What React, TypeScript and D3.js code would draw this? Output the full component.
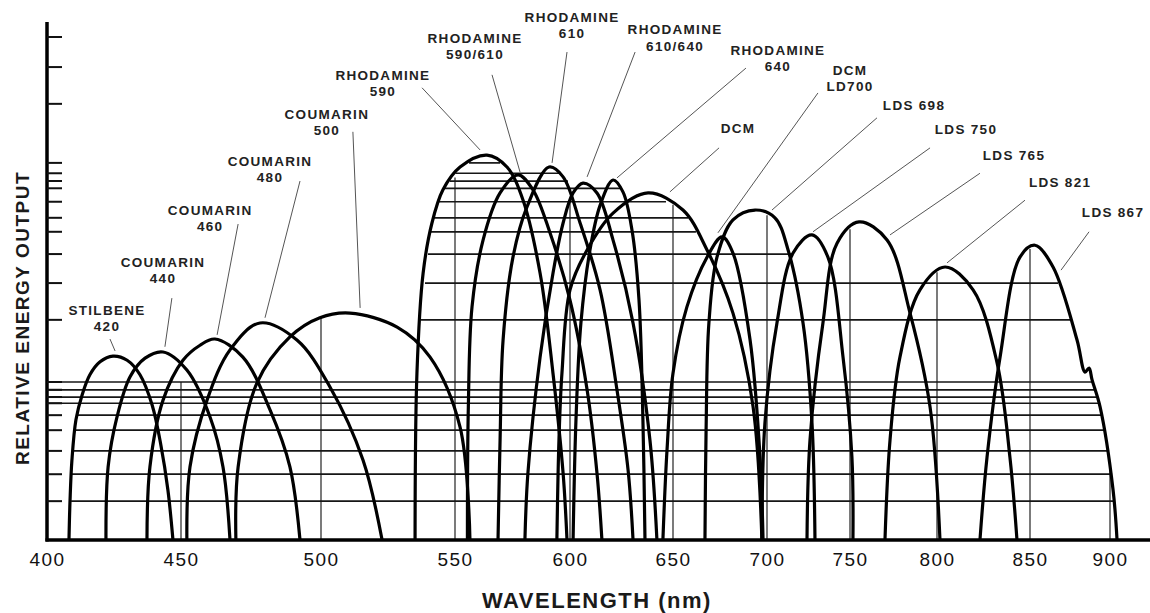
import React, { useRef, useEffect } from 'react';
import * as d3 from 'd3';

const WIDTH = 1150;
const HEIGHT = 613;

// wavelength ticks (nm) and where the hand drawn axis places them (non-uniform)
const xTicks = [400, 450, 500, 550, 600, 650, 700, 750, 800, 850, 900];
const xTickPx = [47, 181, 321, 455, 570, 673, 767, 850, 937, 1030, 1110];

// relative energy marks on the left axis (0-100)
const yTicks = [
  97.1, 91.3, 84.2, 72.8, 70.8, 69.3, 67.9, 65.3, 62.2, 59.5, 55.2, 49.6, 42.5, 30.5, 29.0, 27.6,
  26.4, 24.1, 21.2, 17.2, 12.7, 7.5,
];

// horizontal rulings: level and the wavelength span they cover
const gridLevels = [
  72.8, 70.8, 69.3, 67.9, 65.3, 62.2, 59.5, 55.2, 49.6, 42.5, 30.5, 29.0, 27.6, 26.4, 24.1, 21.2,
  17.2, 12.7, 7.5,
];
const gridFrom = [
  556.1, 550.2, 548.1, 545.9, 543.7, 542.2, 541.0, 539.9, 538.8, 537.3, 400, 400, 400, 400, 410.8,
  410.4, 409.7, 409.3, 409.0,
];
const gridTo = [
  569.6, 595.7, 599.1, 624.3, 646.6, 658.0, 662.2, 715.7, 867.5, 875.0, 889.4, 890.6, 892.5, 893.4,
  895.0, 896.9, 899.4, 901.3, 902.8,
];

// vertical rulings at the labelled wavelengths and how high they reach
const vLines = [450, 500, 550, 600, 650, 700, 750, 800, 850, 900];
const vTops = [30.5, 42.9, 70.0, 66.0, 64.7, 62.7, 60.0, 51.7, 56.2, 13.5];

// dye tuning curves: [wavelength nm, relative energy output]
const stilbene420 = [[408.2, 0], [408.6, 7.7], [409.3, 15.4], [410.8, 23.2], [413.1, 28.0], [416.0, 31.9], [419.8, 34.4], [424.6, 35.5], [429.9, 34.7], [434.7, 31.9], [439.2, 26.1], [442.5, 18.3], [445.1, 9.7], [447.0, 0]];
const coumarin440 = [[422.0, 0], [422.8, 14.1], [426.1, 23.7], [431.0, 31.5], [436.6, 35.1], [443.3, 36.3], [452.1, 32.8], [460.4, 23.7], [465.0, 14.1], [467.5, 0]];
const coumarin460 = [[437.3, 0], [438.4, 14.1], [443.3, 27.0], [450.7, 34.7], [456.8, 37.6], [462.1, 38.8], [472.1, 35.3], [481.8, 25.1], [488.9, 14.1], [492.5, 0]];
const coumarin480 = [[452.1, 0], [453.2, 14.1], [459.3, 27.0], [467.5, 36.7], [478.2, 41.9], [491.4, 38.6], [503.4, 29.5], [515.7, 15.4], [522.8, 0]];
const coumarin500 = [[469.6, 0], [470.4, 14.1], [477.1, 30.3], [488.9, 39.2], [499.6, 42.9], [510.8, 43.8], [528.4, 41.1], [540.7, 35.3], [552.2, 21.8], [556.5, 0]];
const rhodamine590 = [[535.1, 0], [535.8, 32.2], [538.1, 51.5], [541.4, 61.2], [545.5, 67.6], [552.2, 72.0], [563.9, 74.3], [572.6, 72.0], [579.6, 65.6], [587.0, 51.5], [592.6, 32.2], [597.0, 12.9], [598.7, 0]];
const rhodamine590610 = [[555.4, 0], [555.8, 25.7], [557.4, 45.0], [562.2, 57.9], [569.6, 67.0], [577.4, 70.5], [583.9, 67.6], [591.3, 59.3], [600.0, 46.3], [608.3, 29.0], [613.1, 12.9], [615.5, 0]];
const rhodamine610 = [[568.7, 0], [569.6, 19.3], [570.9, 38.6], [575.2, 54.6], [581.3, 64.3], [590.9, 72.0], [597.0, 70.1], [604.9, 61.2], [614.6, 48.3], [622.8, 29.0], [628.2, 13.5], [630.6, 0]];
const rhodamine610640 = [[580.4, 0], [581.7, 12.9], [587.0, 35.3], [592.6, 51.5], [597.0, 61.2], [601.5, 67.0], [606.3, 68.9], [613.1, 67.0], [620.9, 57.9], [630.6, 41.9], [638.8, 19.3], [642.2, 0]];
const rhodamine640 = [[601.5, 0], [602.9, 23.2], [605.3, 41.9], [609.7, 56.0], [614.6, 64.6], [620.9, 69.5], [625.7, 67.2], [630.1, 59.8], [633.5, 46.3], [635.4, 23.2], [636.4, 0]];
const dcm = [[594.3, 0], [595.2, 19.3], [596.5, 32.2], [600.0, 48.3], [608.3, 56.0], [620.9, 63.1], [637.9, 67.0], [655.3, 63.7], [668.1, 56.0], [681.9, 43.8], [692.6, 25.7], [697.3, 0]];
const dcmLd700 = [[645.1, 0], [647.1, 17.4], [650.0, 32.2], [657.4, 45.0], [668.1, 54.6], [676.1, 58.5], [681.9, 55.4], [691.0, 38.6], [696.3, 16.0], [697.9, 0]];
const lds698 = [[667.0, 0], [667.6, 21.2], [669.1, 41.9], [673.4, 54.6], [681.9, 61.8], [693.6, 63.7], [704.8, 62.2], [712.7, 56.0], [721.7, 41.9], [727.1, 22.6], [728.9, 0]];
const lds750 = [[697.3, 0], [698.9, 22.6], [706.0, 41.9], [715.7, 55.4], [727.1, 58.9], [736.7, 54.6], [745.8, 35.3], [751.1, 16.0], [751.7, 0]];
const lds765 = [[724.1, 0], [725.9, 19.3], [733.7, 41.9], [742.2, 57.3], [755.2, 61.4], [771.3, 57.9], [784.5, 43.8], [796.0, 25.7], [801.6, 0]];
const lds821 = [[770.1, 0], [773.0, 19.3], [778.7, 35.3], [790.2, 48.3], [804.3, 52.7], [819.4, 48.3], [832.3, 34.2], [839.2, 16.0], [843.0, 0]];
const lds867 = [[823.1, 0], [826.9, 16.0], [833.9, 35.3], [844.6, 54.6], [853.1, 56.9], [864.4, 52.7], [879.4, 38.6], [884.4, 32.4], [886.9, 33.2], [888.8, 30.9], [893.8, 25.7], [901.9, 9.7], [904.4, 0]];

const dyeCurves = [
  stilbene420, coumarin440, coumarin460, coumarin480, coumarin500,
  rhodamine590, rhodamine590610, rhodamine610, rhodamine610640, rhodamine640,
  dcm, dcmLd700, lds698, lds750, lds765, lds821, lds867,
];

// callouts: text lines, text anchor and leader ends, in [nm, output]
const labelLines = [
  ['STILBENE', '420'], ['COUMARIN', '440'], ['COUMARIN', '460'], ['COUMARIN', '480'], ['COUMARIN', '500'],
  ['RHODAMINE', '590'], ['RHODAMINE', '590/610'], ['RHODAMINE', '610'], ['RHODAMINE', '610/640'], ['RHODAMINE', '640'],
  ['DCM'], ['DCM', 'LD700'], ['LDS 698'], ['LDS 750'], ['LDS 765'], ['LDS 821'], ['LDS 867'],
];
const labelAt = [
  [422.4, 44.4], [443.3, 53.7], [460.4, 63.7], [481.8, 73.2], [502.2, 82.2],
  [523.1, 89.8], [558.7, 96.9], [601.0, 101.0], [651.1, 98.5], [706.6, 94.6],
  [684.6, 79.5], [750.0, 90.7], [786.8, 84.0], [815.6, 79.3], [841.4, 74.3], [868.8, 69.1], [901.9, 63.3],
];
const leaderFrom = [
  [423.5, 38.8], [446.6, 46.7], [470.4, 61.0], [492.5, 69.3], [511.9, 78.8],
  [537.7, 87.3], [566.1, 89.8], [598.7, 94.2], [631.6, 94.2], [688.8, 91.1],
  [674.5, 75.7], [730.7, 86.3], [765.5, 81.5], [796.0, 75.7], [823.1, 70.8], [847.3, 65.6], [886.9, 59.5],
];
const leaderTo = [
  [425.4, 36.5], [444.0, 37.3], [462.9, 39.6], [480.0, 42.9], [514.6, 44.8],
  [560.9, 75.3], [578.3, 71.0], [592.2, 72.8], [608.3, 70.1], [622.8, 69.9],
  [648.5, 67.2], [673.9, 59.3], [703.0, 63.7], [727.7, 59.5], [773.0, 58.9], [805.4, 53.5], [869.4, 52.1],
];

const FONT = '"Liberation Sans", Arial, Helvetica, sans-serif';

const App = () => {
  const svgRef = useRef<SVGSVGElement>(null);

  useEffect(() => {
    const svg = d3.select(svgRef.current);
    svg.selectAll('*').remove();

    const x = d3.scaleLinear().domain(xTicks).range(xTickPx);
    const y = d3.scaleLinear().domain([0, 100]).range([540, 22]);

    svg.append('rect').attr('width', WIDTH).attr('height', HEIGHT).attr('fill', '#fff');

    // vertical rulings
    svg
      .append('g')
      .selectAll('line')
      .data(vLines)
      .join('line')
      .attr('x1', (d) => x(d))
      .attr('x2', (d) => x(d))
      .attr('y1', y(0))
      .attr('y2', (d, i) => y(vTops[i]))
      .attr('stroke', '#333')
      .attr('stroke-width', 1.3);

    // horizontal rulings
    svg
      .append('g')
      .selectAll('line')
      .data(gridLevels)
      .join('line')
      .attr('x1', (d, i) => x(gridFrom[i]))
      .attr('x2', (d, i) => x(gridTo[i]))
      .attr('y1', (d) => y(d))
      .attr('y2', (d) => y(d))
      .attr('stroke', '#161616')
      .attr('stroke-width', 1.7);

    // leaders
    svg
      .append('g')
      .selectAll('line')
      .data(leaderFrom)
      .join('line')
      .attr('x1', (d) => x(d[0]))
      .attr('y1', (d) => y(d[1]))
      .attr('x2', (d, i) => x(leaderTo[i][0]))
      .attr('y2', (d, i) => y(leaderTo[i][1]))
      .attr('stroke', '#555')
      .attr('stroke-width', 1);

    // dye curves
    const line = d3
      .line<number[]>()
      .x((d) => x(d[0]))
      .y((d) => y(d[1]))
      .curve(d3.curveCatmullRom.alpha(0.5));

    svg
      .append('g')
      .selectAll('path')
      .data(dyeCurves)
      .join('path')
      .attr('d', (d) => line(d))
      .attr('fill', 'none')
      .attr('stroke', '#000')
      .attr('stroke-width', 3.2)
      .attr('stroke-linejoin', 'round');

    // axis lines
    svg
      .append('line')
      .attr('x1', x(400))
      .attr('x2', x(400))
      .attr('y1', y(100))
      .attr('y2', y(0) + 1.5)
      .attr('stroke', '#000')
      .attr('stroke-width', 3.5);
    svg
      .append('line')
      .attr('x1', x(400) - 1.5)
      .attr('x2', WIDTH)
      .attr('y1', y(0))
      .attr('y2', y(0))
      .attr('stroke', '#000')
      .attr('stroke-width', 3.5);

    // y ticks
    svg
      .append('g')
      .selectAll('line')
      .data(yTicks)
      .join('line')
      .attr('x1', x(400))
      .attr('x2', x(400) + 15)
      .attr('y1', (d) => y(d))
      .attr('y2', (d) => y(d))
      .attr('stroke', '#111')
      .attr('stroke-width', 2);

    // x tick labels
    const xAxis = svg
      .append('g')
      .attr('transform', `translate(0,${y(0)})`)
      .call(d3.axisBottom(x).tickValues(xTicks).tickSize(0).tickPadding(13).tickFormat(d3.format('d')));
    xAxis.select('.domain').remove();
    xAxis
      .selectAll('text')
      .attr('font-family', FONT)
      .attr('font-size', 19)
      .attr('letter-spacing', 1.5)
      .attr('fill', '#111');

    // axis titles
    svg
      .append('text')
      .attr('x', 597)
      .attr('y', 608)
      .attr('text-anchor', 'middle')
      .attr('font-family', FONT)
      .attr('font-size', 22)
      .attr('font-weight', 'bold')
      .attr('letter-spacing', 1.5)
      .attr('fill', '#1a1a1a')
      .text('WAVELENGTH (nm)');

    svg
      .append('text')
      .attr('transform', 'translate(29,318) rotate(-90)')
      .attr('text-anchor', 'middle')
      .attr('font-family', FONT)
      .attr('font-size', 19)
      .attr('font-weight', 'bold')
      .attr('letter-spacing', 1.5)
      .attr('fill', '#1a1a1a')
      .text('RELATIVE ENERGY OUTPUT');

    // callout labels
    const labels = svg
      .append('g')
      .selectAll('text')
      .data(labelLines)
      .join('text')
      .attr('x', (d, i) => x(labelAt[i][0]))
      .attr('y', (d, i) => y(labelAt[i][1]))
      .attr('text-anchor', 'middle')
      .attr('font-family', FONT)
      .attr('font-size', 13.5)
      .attr('font-weight', 'bold')
      .attr('letter-spacing', 1.3)
      .attr('fill', '#222');
    labels
      .selectAll('tspan')
      .data((d) => d)
      .join('tspan')
      .attr('x', function () {
        return (this as SVGTSpanElement).parentElement!.getAttribute('x');
      })
      .attr('dy', (d, i) => (i === 0 ? '0.35em' : '16.5'))
      .text((d) => d);
  }, []);

  return (
    <svg
      ref={svgRef}
      width={WIDTH}
      height={HEIGHT}
      style={{ position: 'absolute', left: 0, top: 0, background: '#fff' }}
    />
  );
};

export default App;
